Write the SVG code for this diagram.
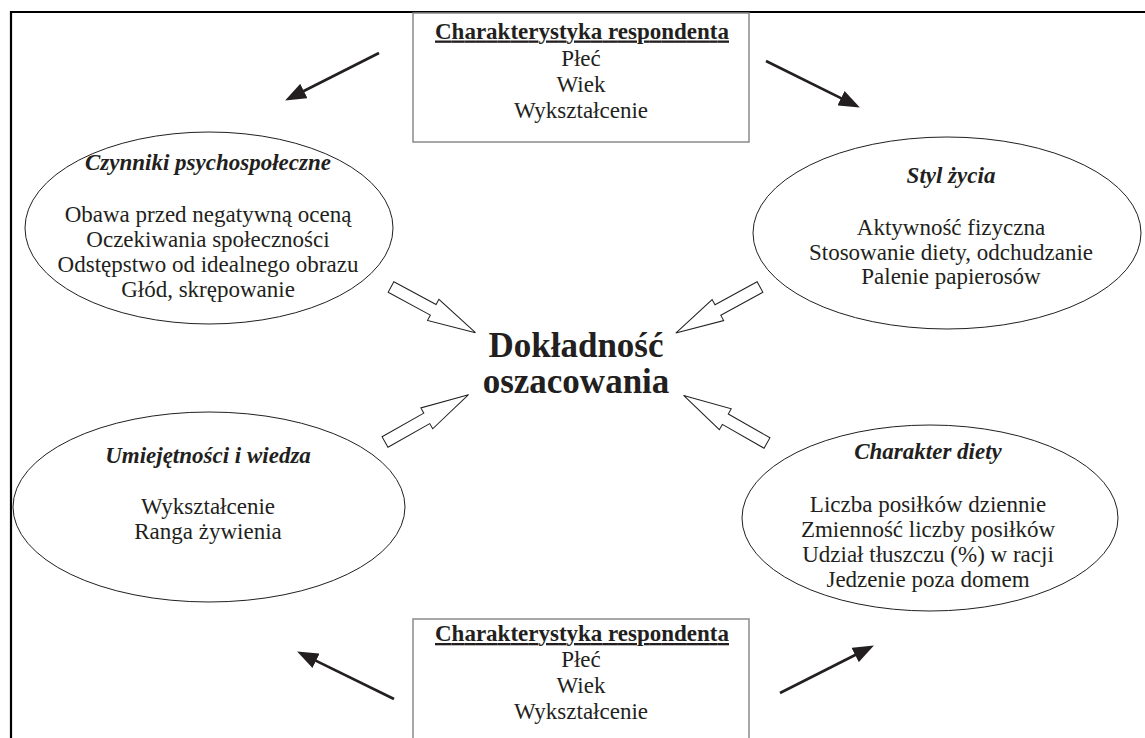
<svg xmlns="http://www.w3.org/2000/svg" width="1145" height="738" viewBox="0 0 1145 738">
<style>
  text { font-family: "Liberation Serif", "Times New Roman", serif; fill: #231f20; text-anchor: middle; }
  .t { font-size: 23px; }
  .h { font-size: 23px; font-weight: bold; text-decoration: underline; }
  .e { font-size: 23px; font-weight: bold; font-style: italic; }
  .c { font-size: 35px; font-weight: bold; }
  .box { fill: #fff; stroke: #8a8a8a; stroke-width: 1.5; }
  .ell { fill: #fff; stroke: #231f20; stroke-width: 1; }
  .frame { stroke: #000; stroke-width: 2.2; fill: none; }
  .arr { stroke: #231f20; stroke-width: 2.6; fill: none; marker-end: url(#head); }
  .block { fill: #fff; stroke: #231f20; stroke-width: 1; stroke-linejoin: miter; }
</style>
<defs>
  <marker id="head" markerUnits="userSpaceOnUse" markerWidth="22" markerHeight="16" refX="10" refY="8" orient="auto">
    <path d="M0,0 L21,8 L0,16 z" fill="#231f20"/>
  </marker>
  <path id="blk" d="M0,-6 L48,-6 L48,-12 L96,0 L48,12 L48,6 L0,6 z"/>
</defs>
<rect width="1145" height="738" fill="#fff"/>
<path class="frame" d="M11,738 L11,12 L1145,12"/>

<g id="box-top">
  <rect class="box" x="413" y="13" width="336" height="129"/>
  <text class="h" x="582" y="38.5" textLength="294" lengthAdjust="spacing">Charakterystyka respondenta</text>
  <text class="t" x="581" y="65.5">Płeć</text>
  <text class="t" x="581" y="91.5">Wiek</text>
  <text class="t" x="581" y="118">Wykształcenie</text>
</g>

<g id="box-bottom">
  <rect class="box" x="413" y="619" width="336" height="140"/>
  <text class="h" x="582" y="641" textLength="294" lengthAdjust="spacing">Charakterystyka respondenta</text>
  <text class="t" x="581" y="667">Płeć</text>
  <text class="t" x="581" y="693">Wiek</text>
  <text class="t" x="581" y="718.5">Wykształcenie</text>
</g>

<g id="czynniki">
  <ellipse class="ell" cx="209" cy="228" rx="184" ry="96"/>
  <text class="e" x="208" y="170">Czynniki psychospołeczne</text>
  <text class="t" x="208" y="222">Obawa przed negatywną oceną</text>
  <text class="t" x="208" y="247">Oczekiwania społeczności</text>
  <text class="t" x="208" y="272">Odstępstwo od idealnego obrazu</text>
  <text class="t" x="208" y="297">Głód, skrępowanie</text>
</g>

<g id="styl">
  <ellipse class="ell" cx="947" cy="233" rx="194" ry="96"/>
  <text class="e" x="951" y="183">Styl życia</text>
  <text class="t" x="951" y="235">Aktywność fizyczna</text>
  <text class="t" x="951" y="259.5">Stosowanie diety, odchudzanie</text>
  <text class="t" x="951" y="284">Palenie papierosów</text>
</g>

<g id="umiejetnosci">
  <ellipse class="ell" cx="209" cy="507" rx="196" ry="95"/>
  <text class="e" x="208" y="463">Umiejętności i wiedza</text>
  <text class="t" x="208" y="514">Wykształcenie</text>
  <text class="t" x="208" y="539">Ranga żywienia</text>
</g>

<g id="charakter">
  <ellipse class="ell" cx="930" cy="518" rx="188" ry="93"/>
  <text class="e" x="928" y="459">Charakter diety</text>
  <text class="t" x="928" y="512">Liczba posiłków dziennie</text>
  <text class="t" x="928" y="537">Zmienność liczby posiłków</text>
  <text class="t" x="928" y="562">Udział tłuszczu (%) w racji</text>
  <text class="t" x="928" y="587">Jedzenie poza domem</text>
</g>

<g id="center">
  <text class="c" x="576" y="357">Dokładność</text>
  <text class="c" x="576" y="393">oszacowania</text>
</g>

<g id="connectors">
  <line class="arr" x1="379" y1="53" x2="294.9" y2="95.5"/>
  <line class="arr" x1="766" y1="61" x2="850" y2="102.6"/>
  <line class="arr" x1="394" y1="699" x2="307" y2="656.4"/>
  <line class="arr" x1="780" y1="693" x2="864.1" y2="650.5"/>
  <use href="#blk" class="block" transform="translate(391,287) rotate(28.4)"/>
  <use href="#blk" class="block" transform="translate(760,287) rotate(151.3)"/>
  <use href="#blk" class="block" transform="translate(385,442) rotate(-29.5)"/>
  <use href="#blk" class="block" transform="translate(767,443) rotate(-150.3)"/>
</g>
</svg>
